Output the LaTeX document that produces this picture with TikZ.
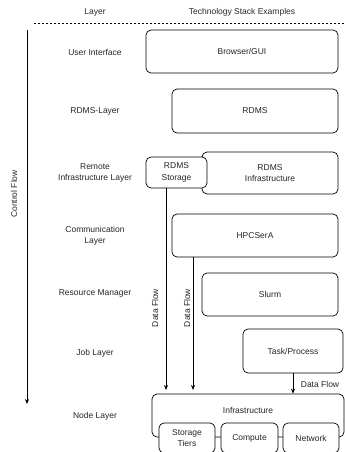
\documentclass[tikz,border=0pt]{standalone}
\usepackage{fontspec}
\setmainfont{Liberation Sans}
\usetikzlibrary{arrows.meta}
\begin{document}
\begin{tikzpicture}[x=1pt,y=-1pt,
  every node/.style={font=\fontsize{8.5}{11.5}\selectfont, text=black!85, inner sep=0pt},
  box/.style={draw, line width=0.7pt, rounded corners=5pt, fill=white, align=center},
  lbl/.style={align=center},
  arr/.style={line width=0.7pt, -{Stealth[length=5pt,width=4pt]}}]
\useasboundingbox (0,0) rectangle (345,452);
\clip (0,0) rectangle (345,452);
% header
\node (hlayer) at (95,12) {Layer};
\node (htech) at (242,12) {Technology Stack Examples};
\coordinate (dl1) at (34,23);
\coordinate (dl2) at (345,23);
\draw[line width=0.5pt, dash pattern=on 2pt off 2pt] (dl1) -- (dl2);
% control flow
\coordinate (cf1) at (27,30);
\coordinate (cf2) at (27,404);
\draw[arr] (cf1) -- (cf2);
\node[rotate=90] (cflabel) at (14,194) {Control Flow};
% layer labels
\node[lbl] (l1) at (95,52) {User Interface};
\node[lbl] (l2) at (95,111) {RDMS-Layer};
\node[lbl] (l3) at (95,173) {Remote\\Infrastructure Layer};
\node[lbl] (l4) at (95,236) {Communication\\Layer};
\node[lbl] (l5) at (95,293) {Resource Manager};
\node[lbl] (l6) at (95,353) {Job Layer};
\node[lbl] (l7) at (95,416) {Node Layer};
% boxes
\node[box, minimum width=192pt, minimum height=43pt] (gui) at (242,51.5) {Browser/GUI};
\node[box, minimum width=166pt, minimum height=44pt] (rdms) at (255,111) {RDMS};
\node[box, minimum width=136pt, minimum height=42pt] (rinfra) at (270,173) {RDMS\\Infrastructure};
\node[box, minimum width=61pt, minimum height=31pt] (rstor) at (176.5,172.5) {RDMS\\Storage};
\node[box, minimum width=166pt, minimum height=43pt] (hpc) at (255,235.5) {HPCSerA};
\node[box, minimum width=136pt, minimum height=43pt] (slurm) at (270,294.5) {Slurm};
\node[box, minimum width=100pt, minimum height=44pt] (task) at (293,351) {Task/Process};
\node[box, minimum width=192pt, minimum height=43pt] (infra) at (248,415.5) {};
\node (infratitle) at (248,410) {Infrastructure};
\node[box, minimum width=56pt, minimum height=30pt] (stiers) at (187,438) {Storage\\Tiers};
\node[box, minimum width=57pt, minimum height=30pt] (compute) at (249.5,438) {Compute};
\node[box, minimum width=56pt, minimum height=30pt] (network) at (311,438) {Network};
% data flows
\coordinate (d1) at (166,390);
\coordinate (d2) at (193,390);
\coordinate (d3) at (293,390);
\draw[arr] (rstor.south -| d1) -- (d1);
\draw[arr] (hpc.south -| d2) -- (d2);
\draw[arr] (task.south -| d3) -- (infra.north -| d3);
\node[rotate=90] (df1) at (155,308) {Data Flow};
\node[rotate=90] (df2) at (187,308) {Data Flow};
\node (df3) at (320,384) {Data Flow};
\end{tikzpicture}
\end{document}
